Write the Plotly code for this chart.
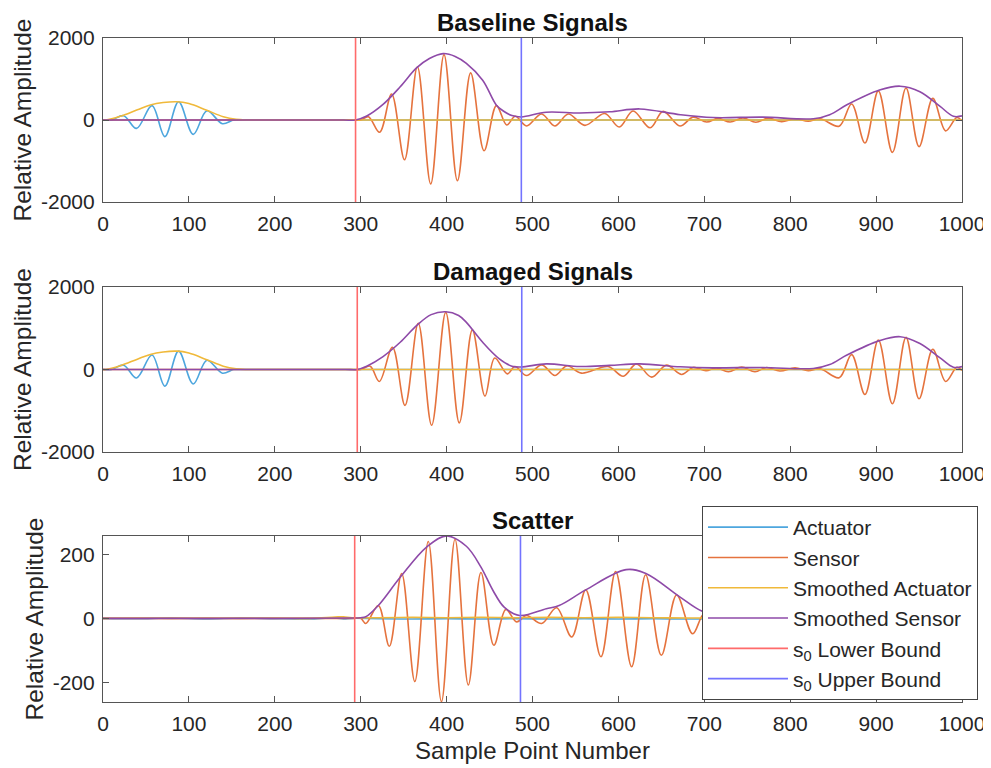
import plotly.graph_objects as go
from plotly.subplots import make_subplots

# ---------------- data ----------------
# Actuator (same in baseline and damaged panels): extrema of the tone burst
ACT_X = [0, 10, 24, 39, 57, 72, 88, 105, 121, 139, 152, 160, 400, 700, 1000]
ACT_Y = [0, 0, 105, -205, 350, -405, 445, -350, 225, -90, 0, 0, 0, 0, 0]

# Smoothed actuator envelope
SACT_X = [0, 3, 20, 40, 55, 70, 86, 100, 120, 140, 155, 168, 180, 400, 700, 1000]
SACT_Y = [0, 0, 90, 250, 365, 425, 445, 400, 245, 80, 15, 0, 0, 0, 0, 0]

# Baseline sensor extrema
SB_X = [0, 150, 280, 290, 300, 309, 322, 336, 351, 366, 381.5, 397, 412.6, 428, 443.6, 458, 470, 480,
        493, 510.6, 526, 541.7, 561, 584, 601, 617, 637, 652, 671.7, 687, 702.8, 716, 730,
        745, 760, 774.5, 790, 805.6, 821, 834.7, 857, 871.5, 887, 902.6, 919, 934.8, 950,
        966, 981, 994, 1000]
SB_Y = [0, 0, 0, 0, 0, 80, -300, 635, -970, 1300, -1560, 1595, -1480, 1150, -750, 350, -120, 90,
        -146, 146, -146, 146, -130, 160, -170, 220, -190, 210, -146, 70, -50, 40, -50,
        50, -55, 45, -40, 30, -30, 30, -150, 390, -560, 710, -790, 780, -650,
        527, -265, 60, -20]

# Baseline smoothed sensor envelope
EB_X = [0, 100, 200, 280, 294, 307, 326, 346, 365, 380, 396, 410, 423, 442, 458, 466, 476, 487, 516, 555,
        590, 625, 672, 710, 768, 827, 846, 866, 904, 928, 951, 974.5, 990, 1000]
EB_Y = [0, 0, 0, 0, 0, 97, 380, 810, 1270, 1500, 1620, 1550, 1380, 970, 360, 220, 110, 75, 190, 170,
        200, 270, 130, 60, 70, 30, 130, 370, 730, 825, 690, 330, 90, 100]

# Damaged sensor extrema
SD_X = [0, 150, 280, 290, 300, 311, 321.7, 337, 351.6, 367, 382.6, 399, 414.8, 430, 444.7, 456, 470.7,
        479.6, 493, 510.7, 526, 540, 557, 588, 605.7, 621, 638.7, 656, 673.7, 687, 702, 714,
        728, 743.5, 759, 772.6, 788, 805.6, 821, 834.7, 857, 871.5, 887, 902.6, 919, 934.8,
        950, 966, 981, 994, 1000]
SD_Y = [0, 0, 0, 0, 0, 80, -290, 540, -870, 1120, -1350, 1385, -1295, 960, -645, 280, -105,
        72, -145, 113, -145, 89, -89, 72, -162, 137, -185, 105, -120, 50, -30, 40,
        -55, 60, -55, 50, -35, 40, -30, 20, -200, 360, -605, 715, -830, 780,
        -710, 490, -290, 55, -20]

# Damaged smoothed sensor envelope
ED_X = [0, 100, 200, 282, 296, 307, 326, 346, 365, 382, 399, 414, 423, 442, 461, 476, 487, 516, 555, 590,
        625, 672, 710, 768, 827, 846, 866, 904, 928, 951, 974.5, 990, 1000]
ED_Y = [0, 0, 0, 0, 0, 80, 314, 660, 1063, 1330, 1400, 1310, 1143, 660, 265, 80, 60, 137, 72, 100,
        137, 65, 40, 50, 25, 120, 350, 700, 795, 630, 280, 55, 70]

# Scatter (difference) signals
SA_X = [0, 40, 80, 120, 160, 200, 240, 270, 280, 290, 320, 360, 400, 440, 480, 520, 560,
        600, 640, 680, 720, 1000]
SA_Y = [0, -1, 1, -2, 1, -1, -2, 1, -2, 0, -1, -2, -1, -2, -1, -2, -1, -2, -1, -2, -1, 0]
SSA_Y = [0, 1, 0, 1, 0, 1, 0, 4, 5, 2, 2, 3, 2, 3, 2, 3, 2, 3, 2, 1, 1, 0]

SS_X = [0, 150, 280, 290, 300, 306, 320.5, 333.3, 347.7, 363, 378.7, 394, 409.8, 425.3, 440, 455, 469,
        481.6, 493, 510.7, 528, 545.6, 562, 579.7, 596.8, 615.4, 631.7, 650, 667.8, 686.5,
        700, 715, 800, 1000]
SS_Y = [0, 0, 0, 0, 0, -16, 40, -87, 140, -197, 240, -260, 247, -208, 143, -84, 28,
        -11, 9, -16, 33, -58, 89, -120, 146, -151, 136, -115, 73, -48,
        15, -10, 0, 0]

ES_X = [0, 100, 200, 290, 300, 306, 320.5, 346, 377, 400, 423, 440, 454, 467, 485, 516, 531, 562, 609, 632,
        671, 697, 720, 1000]
ES_Y = [0, 0, 0, 1, 2, 5, 40, 128, 223, 257, 225, 160, 87, 35, 9, 30, 40, 89, 152, 140,
        68, 23, 10, 5]

# s0 window bounds per panel
LOWER = [294, 296, 293]
UPPER = [487, 487.5, 486]

TITLES = ["Baseline Signals", "Damaged Signals", "Scatter"]
Y_RANGES = [[-2000, 2000], [-2000, 2000], [-261, 257]]
Y_TICKS = [[-2000, 0, 2000], [-2000, 0, 2000], [-200, 0, 200]]
Y_TICKTEXT = [["-2000", "0", "2000"], ["-2000", "0", "2000"], ["-200", "0", "200"]]
X_TICKS = [0, 100, 200, 300, 400, 500, 600, 700, 800, 900, 1000]

NAMES = ["Actuator", "Sensor", "Smoothed Actuator", "Smoothed Sensor",
         "s<sub>0</sub> Lower Bound", "s<sub>0</sub> Upper Bound"]
COLORS = ["#4DA6DE", "#E5733E", "#F0B93A", "#8E4AA8", "#FF6B6B", "#7373FF"]

FONT = "Liberation Sans, Arial, Helvetica, sans-serif"

panels = [
    [(ACT_X, ACT_Y), (SB_X, SB_Y), (SACT_X, SACT_Y), (EB_X, EB_Y)],
    [(ACT_X, ACT_Y), (SD_X, SD_Y), (SACT_X, SACT_Y), (ED_X, ED_Y)],
    [(SA_X, SA_Y), (SS_X, SS_Y), (SA_X, SSA_Y), (ES_X, ES_Y)],
]

fig = make_subplots(rows=3, cols=1)

for i, series in enumerate(panels):
    row = i + 1
    show = (i == 2)
    for k, (xs, ys) in enumerate(series):
        fig.add_trace(go.Scatter(
            x=xs, y=ys, mode="lines", name=NAMES[k], showlegend=show,
            line=dict(color=COLORS[k], width=1.6, shape="spline", smoothing=1.0),
            hoverinfo="skip"), row=row, col=1)
    yr = Y_RANGES[i]
    fig.add_trace(go.Scatter(
        x=[LOWER[i], LOWER[i]], y=yr, mode="lines", name=NAMES[4], showlegend=show,
        line=dict(color=COLORS[4], width=1.6), hoverinfo="skip"), row=row, col=1)
    fig.add_trace(go.Scatter(
        x=[UPPER[i], UPPER[i]], y=yr, mode="lines", name=NAMES[5], showlegend=show,
        line=dict(color=COLORS[5], width=1.6), hoverinfo="skip"), row=row, col=1)

DOMAINS = [[0.753, 1.0], [0.3765, 0.625], [0.0, 0.25]]
AX = "#555555"
TXT = "#262626"

for i in range(3):
    xa = "xaxis" if i == 0 else f"xaxis{i+1}"
    ya = "yaxis" if i == 0 else f"yaxis{i+1}"
    fig.layout[xa].update(
        domain=[0, 1], range=[0, 1000], tickvals=X_TICKS, automargin=False,
        showline=True, linecolor=AX, linewidth=1.2, mirror="ticks",
        ticks="inside", ticklen=6, tickcolor=AX, tickwidth=1.2,
        showgrid=False, zeroline=False, ticklabelstandoff=3,
        tickfont=dict(family=FONT, size=21, color=TXT))
    fig.layout[ya].update(
        domain=DOMAINS[i], range=Y_RANGES[i], tickvals=Y_TICKS[i], ticktext=Y_TICKTEXT[i],
        automargin=False,
        showline=True, linecolor=AX, linewidth=1.2, mirror="ticks",
        ticks="inside", ticklen=6, tickcolor=AX, tickwidth=1.2,
        showgrid=False, zeroline=False, ticklabelstandoff=3,
        tickfont=dict(family=FONT, size=21, color=TXT),
        title=dict(text="Relative Amplitude", standoff=2,
                   font=dict(family=FONT, size=24.5, color=TXT)))
    fig.add_annotation(
        text=f"<b>{TITLES[i]}</b>", x=0.5, xref="paper", y=DOMAINS[i][1], yref="paper",
        xanchor="center", yanchor="bottom", yshift=0, showarrow=False,
        font=dict(family=FONT, size=24, color="#111111"))

fig.layout["xaxis3"].title = dict(text="Sample Point Number", standoff=7,
                                  font=dict(family=FONT, size=24, color=TXT))

# the page body adds an 8px offset, so the figure is 8px smaller than the window
fig.update_layout(
    width=983, height=760,
    margin=dict(l=95, r=29, t=30, b=66),
    paper_bgcolor="white", plot_bgcolor="white",
    showlegend=True,
    legend=dict(x=0.6973, y=0.2952, xanchor="left", yanchor="top",
                bgcolor="white", bordercolor="#444444", borderwidth=1,
                font=dict(family=FONT, size=21, color=TXT),
                itemwidth=80, tracegroupgap=0),
)

fig.write_html("out.html")
